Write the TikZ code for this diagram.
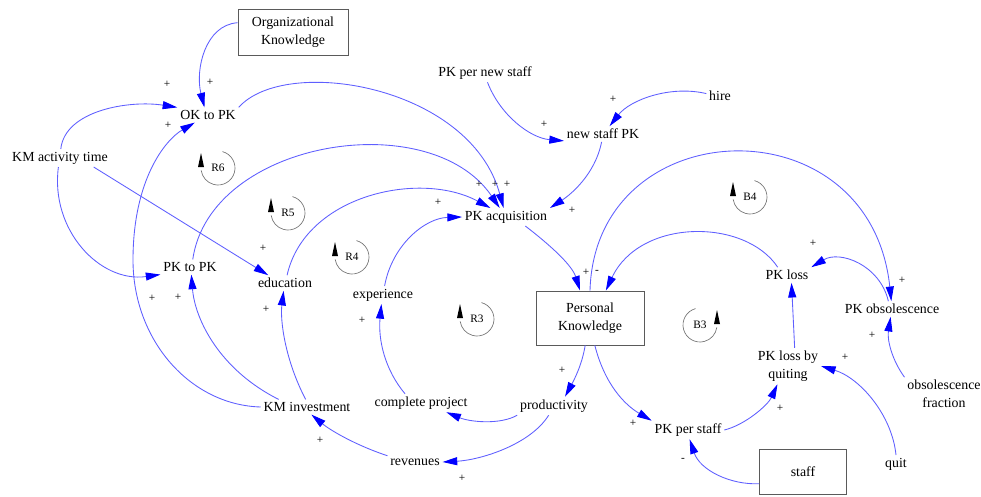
\documentclass[tikz,border=0pt]{standalone}
\usepackage{fontspec}
\setmainfont{Liberation Serif}
\usetikzlibrary{arrows.meta}

\definecolor{linkblue}{RGB}{95,95,255}
\definecolor{tipblue}{RGB}{0,0,255}
\definecolor{boxgray}{RGB}{90,90,90}

\tikzset{
  var/.style={font=\fontsize{10.4}{13.5}\selectfont, inner sep=2pt, align=center},
  stock/.style={draw=boxgray, line width=0.7pt, inner sep=2pt, align=center,
                font=\fontsize{10.4}{13.5}\selectfont},
  link/.style={draw=linkblue, line width=0.65pt,
               -{Triangle[length=11pt,width=6pt,color=tipblue]}},
  sign/.style={font=\fontsize{8.5}{8.5}\selectfont, inner sep=0pt},
  looplabel/.style={font=\fontsize{8.5}{9}\selectfont, inner sep=0pt},
  looparc/.style={draw=black!55, line width=0.5pt},
}

% loop marker, arrow on the left (clockwise circulation)
\newcommand\cwloopmark[3]{%
  \node[looplabel] (#1) at (#2) {#3};
  \draw[looparc] (#1.center) ++(-75:17) arc[start angle=-75, end angle=172, radius=17];
  \fill (#1.center) ++(-20,-1) -- ++(6,0) -- ++(-3,-14) -- cycle;
}
% loop marker, arrow on the right (counter-clockwise circulation)
\newcommand\ccwloopmark[3]{%
  \node[looplabel] (#1) at (#2) {#3};
  \draw[looparc] (#1.center) ++(-105:17) arc[start angle=-105, end angle=-352, radius=17];
  \fill (#1.center) ++(14,-1) -- ++(6,0) -- ++(-3,-14) -- cycle;
}

\begin{document}
\begin{tikzpicture}[x=0.75pt,y=-0.75pt]
\useasboundingbox (0,0) rectangle (981,496);

% ---- variables and stocks ----
\node[stock, minimum width=82.5pt, minimum height=35pt] (org) at (293,32.5) {Organizational\\Knowledge};
\node[var] (okpk) at (208,115) {OK to PK};
\node[var] (km) at (60,158) {KM activity time};
\node[var] (pknew) at (485,73) {PK per new staff};
\node[var] (hire) at (720,96) {hire};
\node[var] (newpk) at (603,134) {new staff PK};
\node[var] (pkacq) at (506,217) {PK acquisition};
\node[var] (pktopk) at (190,267) {PK to PK};
\node[var] (edu) at (285,283) {education};
\node[var] (exp) at (383,295) {experience};
\node[stock, minimum width=81pt, minimum height=40.5pt] (pers) at (590,318) {Personal\\Knowledge};
\node[var] (cproj) at (421,403) {complete project};
\node[var] (prod) at (554,406) {productivity};
\node[var] (kminv) at (307,407) {KM investment};
\node[var] (rev) at (415,462) {revenues};
\node[var] (pkloss) at (787,275) {PK loss};
\node[var] (pkobs) at (892,309) {PK obsolescence};
\node[var] (pkq) at (788,366) {PK loss by\\quiting};
\node[var] (obsf) at (944,394) {obsolescence\\fraction};
\node[var] (pkstaff) at (688,430) {PK per staff};
\node[stock, minimum width=65pt, minimum height=34pt] (staff) at (803,472) {staff};
\node[var] (quit) at (896,464) {quit};

% ---- causal links ----
\draw[link] (org.170) .. controls (205,25) and (195,70) .. (okpk.115);
\draw[link] (km.85) .. controls (65,110) and (130,100) .. (okpk.north west);
\draw[link] (km.-100) .. controls (50,230) and (100,283) .. (pktopk.south west);
\draw[link] (km.-15) -- (edu.155);
\draw[link] (okpk.north east) .. controls (285,55) and (470,85) .. (pkacq.105);
\draw[link] (pktopk.70) .. controls (210,140) and (430,105) .. (pkacq.125);
\draw[link] (edu.75) .. controls (305,195) and (420,170) .. (pkacq.150);
\draw[link] (exp.80) .. controls (392,245) and (425,218) .. (pkacq.west);
\draw[link] (newpk.-100) .. controls (595,175) and (570,195) .. (pkacq.north east);
\draw[link] (pknew.-75) .. controls (500,115) and (530,138) .. (newpk.190);
\draw[link] (hire.170) .. controls (670,85) and (630,100) .. (newpk.50);
\draw[link] (pkacq.-25) .. controls (550,245) and (572,265) .. (pers.110);
\draw[link] (pers.north) .. controls (595,110) and (870,100) .. (pkobs.95);
\draw[link] (pkloss.140) .. controls (745,218) and (640,218) .. (pers.60);
\draw[link] (pkobs.115) .. controls (880,265) and (840,250) .. (pkloss.north east);
\draw[link] (pkq.70) -- (pkloss.-60);
\draw[link] (obsf.north west) .. controls (892,360) and (887,340) .. (pkobs.-100);
\draw[link] (quit.north) .. controls (892,415) and (860,378) .. (pkq.east);
\draw[link] (pkstaff.east) .. controls (745,425) and (768,405) .. (pkq.-120);
\draw[link] (staff.195) .. controls (730,485) and (700,470) .. (pkstaff.-80);
\draw[link] (pers.-80) .. controls (605,385) and (625,405) .. (pkstaff.north west);
\draw[link] (pers.-100) .. controls (582,365) and (574,380) .. (prod.40);
\draw[link] (prod.south west) .. controls (500,425) and (470,422) .. (cproj.-20);
\draw[link] (prod.-120) .. controls (530,445) and (480,460) .. (rev.east);
\draw[link] (rev.north west) .. controls (355,445) and (330,430) .. (kminv.-60);
\draw[link] (cproj.150) .. controls (385,370) and (378,340) .. (exp.-100);
\draw[link] (kminv.100) .. controls (285,360) and (280,320) .. (edu.-100);
\draw[link] (kminv.165) .. controls (220,370) and (195,320) .. (pktopk.-80);
\coordinate (bendokpk) at (133,260);
\draw[link] (kminv.west) .. controls (190,405) and (133,340) .. (bendokpk)
            .. controls (133,180) and (165,140) .. (okpk.-150);

% ---- polarity signs ----
\node[sign] (p1) at (210,82) {+};
\node[sign] (p2) at (167,84) {+};
\node[sign] (p3) at (168,125) {+};
\node[sign] (p4) at (152,298) {+};
\node[sign] (p5) at (178,297) {+};
\node[sign] (p6) at (263,248) {+};
\node[sign] (p7) at (266,309) {+};
\node[sign] (p8) at (362,320) {+};
\node[sign] (p9) at (438,202) {+};
\node[sign] (p10) at (479,184) {+};
\node[sign] (p11) at (495,184) {+};
\node[sign] (p12) at (507,184) {+};
\node[sign] (p13) at (544,124) {+};
\node[sign] (p14) at (613,99) {+};
\node[sign] (p15) at (572,210) {+};
\node[sign] (p16) at (586,272) {+};
\node[sign] (m1) at (597,272) {-};
\node[sign] (p17) at (902,280) {+};
\node[sign] (p18) at (813,243) {+};
\node[sign] (p19) at (872,335) {+};
\node[sign] (p20) at (845,357) {+};
\node[sign] (p21) at (780,408) {+};
\node[sign] (m2) at (683,460) {-};
\node[sign] (p22) at (633,423) {+};
\node[sign] (p23) at (562,370) {+};
\node[sign] (p24) at (462,478) {+};
\node[sign] (p25) at (320,440) {+};

% ---- loop markers ----
\cwloopmark{r6}{218,168}{R6}
\cwloopmark{r5}{288,213}{R5}
\cwloopmark{r4}{352,257}{R4}
\cwloopmark{r3}{477,319}{R3}
\cwloopmark{b4}{750,197}{B4}
\ccwloopmark{b3}{700,325}{B3}
\end{tikzpicture}
\end{document}
